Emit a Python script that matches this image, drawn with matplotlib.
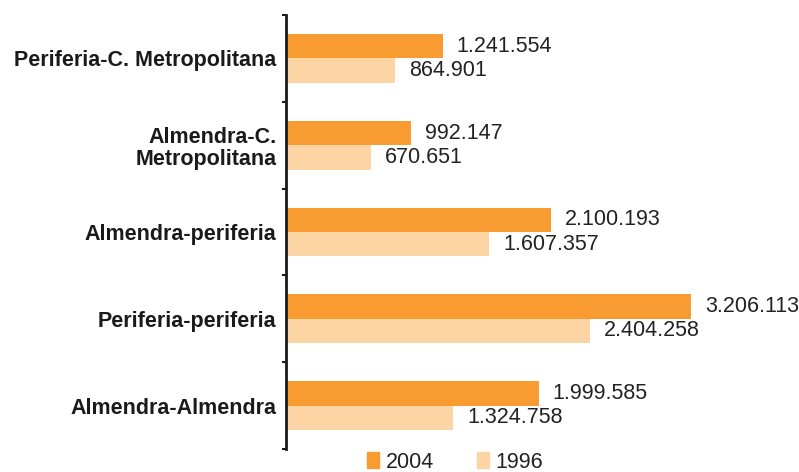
import matplotlib.pyplot as plt
from matplotlib.patches import Patch
import numpy as np

# categories, top to bottom
categories = ["Periferia-C. Metropolitana", "Almendra-C.\nMetropolitana",
              "Almendra-periferia", "Periferia-periferia", "Almendra-Almendra"]
values_2004 = [1241554, 992147, 2100193, 3206113, 1999585]
values_1996 = [864901, 670651, 1607357, 2404258, 1324758]
series_names = ["2004", "1996"]

color_2004 = "#F89C32"
color_1996 = "#FDD4A3"

def fmt(v):
    # thousands separator with dots
    return f"{v:,}".replace(",", ".")

plt.rcParams['font.family'] = ['Liberation Sans', 'DejaVu Sans']

fig = plt.figure(figsize=(7.99, 4.72), dpi=100)
ax = fig.add_axes([286 / 799, 1 - 449 / 472, 1 - 286 / 799, 434 / 472])

y = np.arange(len(categories))
h = 0.28
ax.barh(y - h / 2, values_2004, height=h, color=color_2004)
ax.barh(y + h / 2, values_1996, height=h, color=color_1996)

for yi, v in zip(y, values_2004):
    ax.annotate(fmt(v), (v, yi - h / 2), xytext=(10, 0), textcoords="offset points",
                va="center", ha="left", fontsize=15.5, color="#222222")
for yi, v in zip(y, values_1996):
    ax.annotate(fmt(v), (v, yi + h / 2), xytext=(10, 0), textcoords="offset points",
                va="center", ha="left", fontsize=15.5, color="#222222")

ax.set_xlim(0, (799 - 286) / 126.3 * 1e6)
ax.set_ylim(len(categories) - 0.5, -0.5)

ax.set_yticks(y)
ax.set_yticklabels(categories, fontsize=15.5, fontweight="bold", color="#1a1a1a",
                   linespacing=1.05)
ax.set_yticks(np.arange(-0.5, len(categories)), minor=True)
ax.tick_params(axis="y", which="major", length=0, pad=7)
ax.tick_params(axis="y", which="minor", length=3, width=1.5, color="#1a1a1a")
ax.set_xticks([])

for s in ["top", "right", "bottom"]:
    ax.spines[s].set_visible(False)
ax.spines["left"].set_linewidth(2)
ax.spines["left"].set_color("#1a1a1a")

handles = [Patch(color=color_2004), Patch(color=color_1996)]
fig.legend(handles, series_names, loc="center", bbox_to_anchor=(455 / 799, 1 - 462 / 472),
           ncol=2, frameon=False, fontsize=15.5, handlelength=0.55, handleheight=0.8,
           handletextpad=0.3, columnspacing=2.0, borderpad=0, labelcolor="#222222")

fig.savefig("out.png", dpi=100)
